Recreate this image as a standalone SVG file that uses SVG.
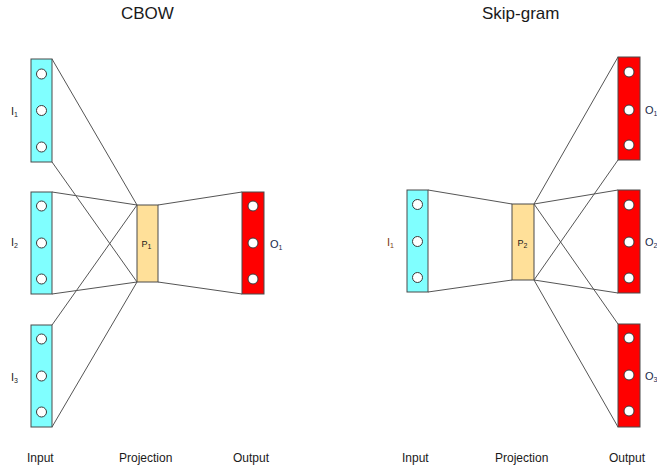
<svg xmlns="http://www.w3.org/2000/svg" width="657" height="467" viewBox="0 0 657 467">
<style>
.in{fill:#80ffff;stroke:#4a4a4a;stroke-width:1}
.out{fill:#ff0000;stroke:#4a4a4a;stroke-width:1}
.proj{fill:#ffe099;stroke:#4a4a4a;stroke-width:1}
.c{fill:#ffffff;stroke:#3a3a3a;stroke-width:1}
.ln{stroke:#555555;stroke-width:1;fill:none}
.t{font-family:"Liberation Sans",Arial,sans-serif;fill:#1a1a1a}
.title{font-size:17px}
.ax{font-size:12px}
.lab{font-size:11px}
.sub{font-size:7px}
.plab{font-size:9px}
</style>
<rect width="657" height="467" fill="#ffffff"/>
<g id="connectors">
<line class="ln" x1="52" y1="59" x2="137" y2="205"/>
<line class="ln" x1="52" y1="162" x2="137" y2="282"/>
<line class="ln" x1="52" y1="192" x2="137" y2="205"/>
<line class="ln" x1="52" y1="294" x2="137" y2="282"/>
<line class="ln" x1="52" y1="325" x2="137" y2="205"/>
<line class="ln" x1="52" y1="427" x2="137" y2="282"/>
<line class="ln" x1="158" y1="205" x2="242" y2="192"/>
<line class="ln" x1="158" y1="282" x2="242" y2="294"/>
<line class="ln" x1="428" y1="190" x2="512" y2="204"/>
<line class="ln" x1="428" y1="292" x2="512" y2="280"/>
<line class="ln" x1="534" y1="204" x2="618" y2="57"/>
<line class="ln" x1="534" y1="204" x2="618" y2="190"/>
<line class="ln" x1="534" y1="204" x2="618" y2="324"/>
<line class="ln" x1="534" y1="280" x2="618" y2="160"/>
<line class="ln" x1="534" y1="280" x2="618" y2="293"/>
<line class="ln" x1="534" y1="280" x2="618" y2="427"/>
</g>
<g id="cbow-title"><text class="t title" x="121" y="19">CBOW</text></g>
<g id="skip-title"><text class="t title" x="482" y="19">Skip-gram</text></g>
<g id="cbow-I1">
<rect class="in" x="31" y="59" width="21" height="103"/>
<circle class="c" cx="41.5" cy="74" r="5"/><circle class="c" cx="41.5" cy="110.5" r="5"/><circle class="c" cx="41.5" cy="147" r="5"/>
<text class="t lab" x="11" y="115">I<tspan class="sub" dy="2">1</tspan></text>
</g>
<g id="cbow-I2">
<rect class="in" x="31" y="192" width="21" height="102"/>
<circle class="c" cx="41.5" cy="206" r="5"/><circle class="c" cx="41.5" cy="243" r="5"/><circle class="c" cx="41.5" cy="279" r="5"/>
<text class="t lab" x="11" y="246">I<tspan class="sub" dy="2">2</tspan></text>
</g>
<g id="cbow-I3">
<rect class="in" x="31" y="325" width="21" height="102"/>
<circle class="c" cx="41.5" cy="339" r="5"/><circle class="c" cx="41.5" cy="376" r="5"/><circle class="c" cx="41.5" cy="412" r="5"/>
<text class="t lab" x="11" y="381">I<tspan class="sub" dy="2">3</tspan></text>
</g>
<g id="cbow-P1">
<rect class="proj" x="137" y="205" width="21" height="77"/>
<text class="t plab" x="141.5" y="247">P<tspan class="sub" dy="1.5">1</tspan></text>
</g>
<g id="cbow-O1">
<rect class="out" x="242" y="192" width="22" height="102"/>
<circle class="c" cx="253" cy="206" r="5"/><circle class="c" cx="253" cy="243" r="5"/><circle class="c" cx="253" cy="279" r="5"/>
<text class="t lab" x="270" y="248" style="fill:#1a2a4a">O<tspan class="sub" dy="2">1</tspan></text>
</g>
<g id="skip-I1">
<rect class="in" x="407" y="190" width="21" height="102"/>
<circle class="c" cx="417.5" cy="204.5" r="5"/><circle class="c" cx="417.5" cy="241.5" r="5"/><circle class="c" cx="417.5" cy="277.5" r="5"/>
<text class="t lab" x="387" y="246" style="fill:#7a3a10">I<tspan class="sub" dy="2">1</tspan></text>
</g>
<g id="skip-P2">
<rect class="proj" x="512" y="204" width="22" height="76"/>
<text class="t plab" x="517.5" y="246">P<tspan class="sub" dy="1.5">2</tspan></text>
</g>
<g id="skip-O1">
<rect class="out" x="618" y="57" width="22" height="103"/>
<circle class="c" cx="629" cy="72" r="5"/><circle class="c" cx="629" cy="110" r="5"/><circle class="c" cx="629" cy="145" r="5"/>
<text class="t lab" x="645" y="114" style="fill:#1a2a4a">O<tspan class="sub" dy="2">1</tspan></text>
</g>
<g id="skip-O2">
<rect class="out" x="618" y="190" width="22" height="103"/>
<circle class="c" cx="629" cy="205" r="5"/><circle class="c" cx="629" cy="242" r="5"/><circle class="c" cx="629" cy="278" r="5"/>
<text class="t lab" x="645" y="246" style="fill:#1a2a4a">O<tspan class="sub" dy="2">2</tspan></text>
</g>
<g id="skip-O3">
<rect class="out" x="618" y="324" width="22" height="103"/>
<circle class="c" cx="629" cy="338" r="5"/><circle class="c" cx="629" cy="375" r="5"/><circle class="c" cx="629" cy="411" r="5"/>
<text class="t lab" x="645" y="380" style="fill:#1a2a4a">O<tspan class="sub" dy="2">3</tspan></text>
</g>
<g id="axis-labels">
<text class="t ax" x="27" y="462">Input</text>
<text class="t ax" x="119" y="462">Projection</text>
<text class="t ax" x="233" y="462">Output</text>
<text class="t ax" x="402" y="462">Input</text>
<text class="t ax" x="495" y="462">Projection</text>
<text class="t ax" x="609" y="462">Output</text>
</g>
</svg>
